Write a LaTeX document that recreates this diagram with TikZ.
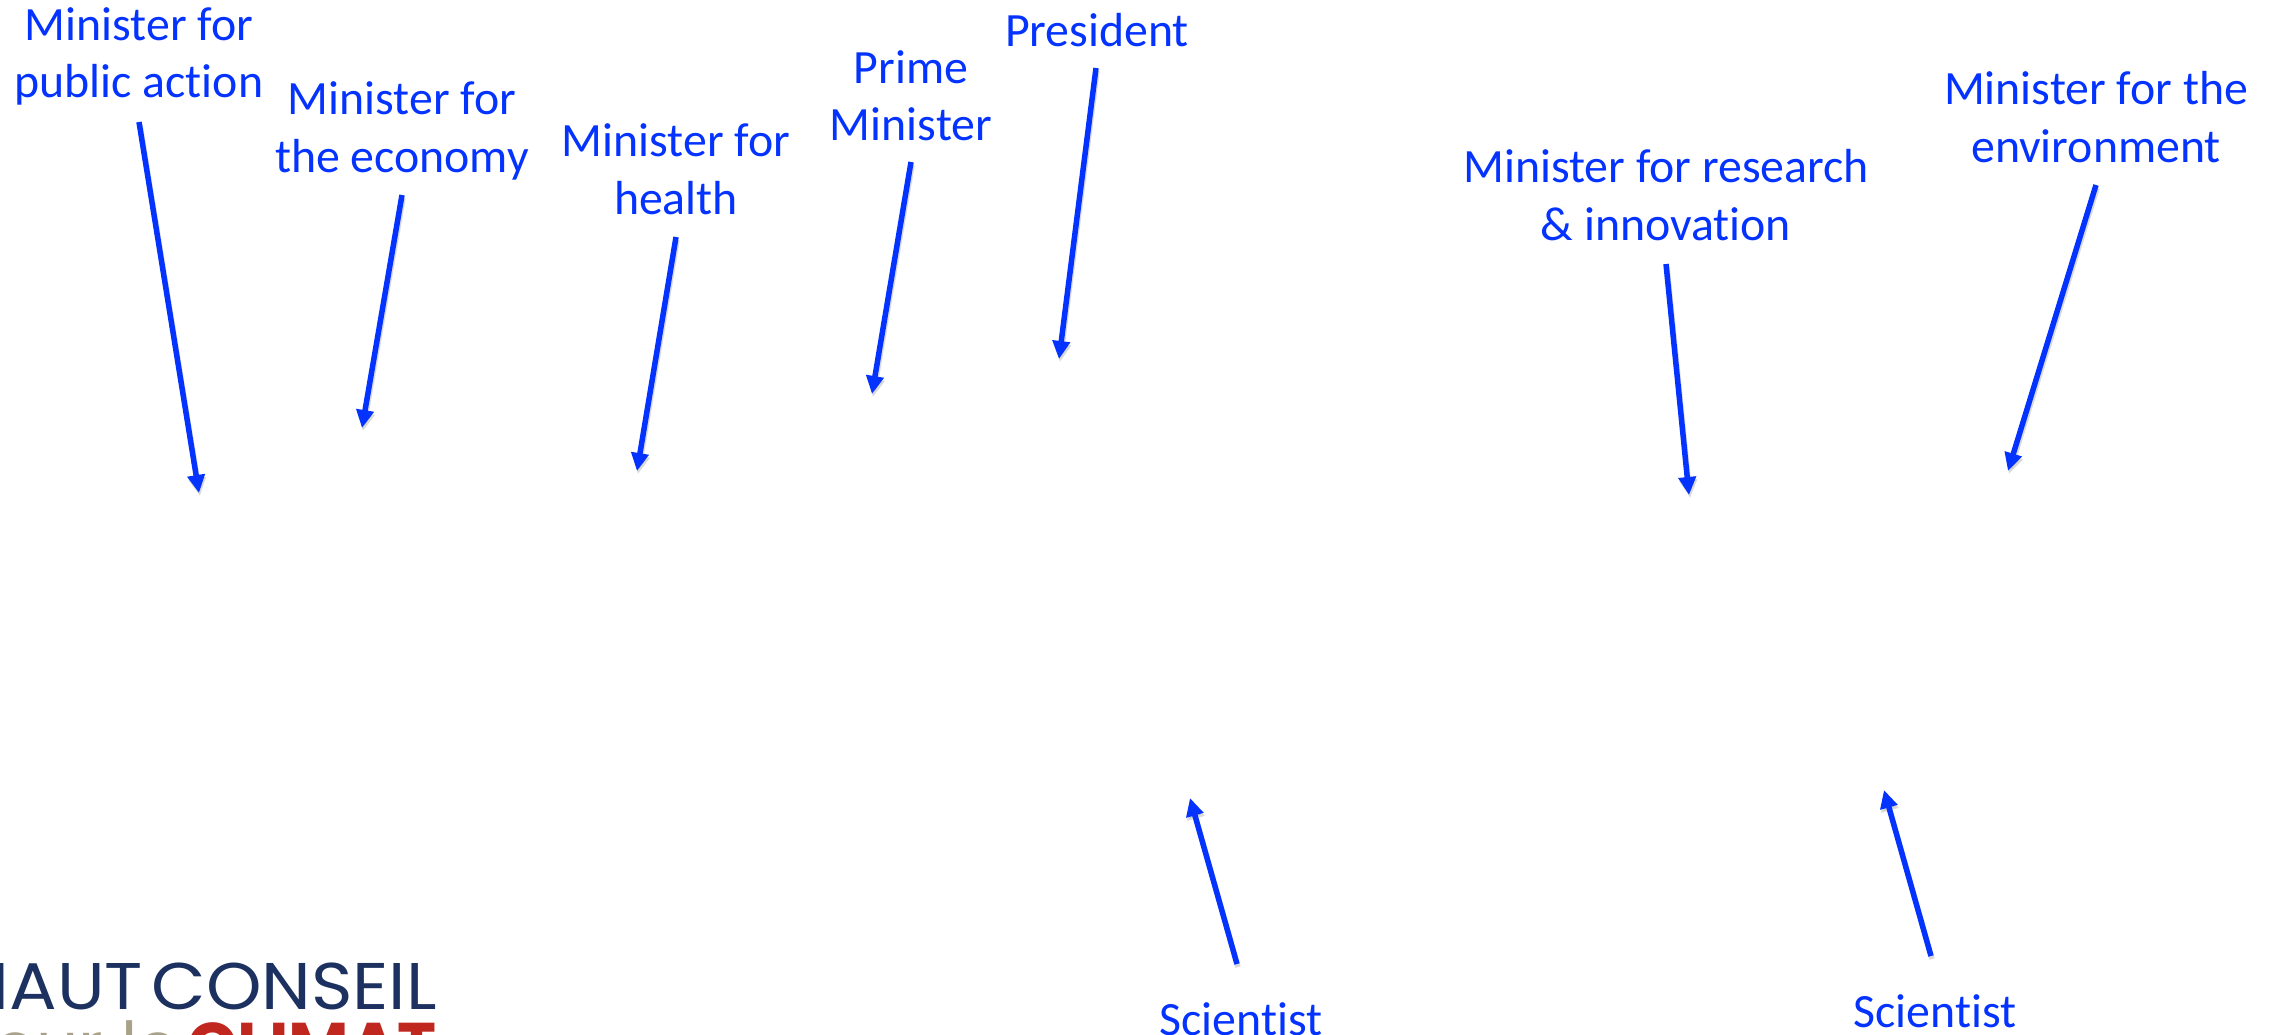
\documentclass[tikz,border=0pt]{standalone}
\usepackage{fontspec}
\usetikzlibrary{arrows.meta}
\setmainfont{Carlito}[Ligatures=NoCommon]
\newfontfamily\logofont{Poppins}
\definecolor{lblblue}{HTML}{0433FF}
\definecolor{logonavy}{HTML}{1C3160}
\definecolor{logored}{HTML}{C0271F}
\definecolor{logotan}{HTML}{A9A28A}
\tikzset{
  x=1pt,y=-1pt,
  lbl/.style={text=lblblue,font=\fontsize{47.8}{57}\selectfont,anchor=base,inner sep=0pt,align=center},
  arr/.style={draw=lblblue,line width=5.5pt,-{Triangle[length=18pt,width=17pt]}},
  arrshadow/.style={draw=black,opacity=0.15,line width=5.5pt,-{Triangle[length=18pt,width=17pt]}},
  logonode/.style={inner sep=0pt,anchor=base east}
}
\newcommand{\arrowline}[2]{%
  \draw[arrshadow,transform canvas={shift={(1pt,-3pt)}}] (#1) -- (#2);
  \draw[arr] (#1) -- (#2);}
\begin{document}
\begin{tikzpicture}
\useasboundingbox (0,0) rectangle (2271,1035);
\clip (0,0) rectangle (2271,1035);
\node[lbl] (pubA) at (139,41) {Minister for};
\node[lbl] (pubB) at (139,98) {public action};
\node[lbl] (ecoA) at (402,115) {Minister for};
\node[lbl] (ecoB) at (402,173) {the economy};
\node[lbl] (heaA) at (676,157) {Minister for};
\node[lbl] (heaB) at (676,215) {health};
\node[lbl] (priA) at (911,84) {Prime};
\node[lbl] (priB) at (911,141) {Minister};
\node[lbl] (pre) at (1097,47) {President};
\node[lbl] (resA) at (1666,183) {Minister for research};
\node[lbl] (resB) at (1666,241) {\&\ innovation};
\node[lbl] (envA) at (2096,105) {Minister for the};
\node[lbl] (envB) at (2096,163) {environment};
\node[lbl] (sciA) at (1241,1035) {Scientist};
\node[lbl] (sciB) at (1935,1027) {Scientist};
\coordinate (a1) at (139,122); \coordinate (b1) at (199,493);
\coordinate (a2) at (402,195); \coordinate (b2) at (362,428);
\coordinate (a3) at (676,237); \coordinate (b3) at (637,471);
\coordinate (a4) at (911,162); \coordinate (b4) at (872,394);
\coordinate (a5) at (1096,68); \coordinate (b5) at (1059,359);
\coordinate (a6) at (1666,264); \coordinate (b6) at (1689,495);
\coordinate (a7) at (2096,185); \coordinate (b7) at (2008,471);
\coordinate (a8) at (1237,964); \coordinate (b8) at (1190,798);
\coordinate (a9) at (1931,956); \coordinate (b9) at (1884,790);
\arrowline{a1}{b1}
\arrowline{a2}{b2}
\arrowline{a3}{b3}
\arrowline{a4}{b4}
\arrowline{a5}{b5}
\arrowline{a6}{b6}
\arrowline{a7}{b7}
\arrowline{a8}{b8}
\arrowline{a9}{b9}
\node[logonode,text=logonavy,font=\logofont\fontsize{66}{66}\selectfont] (logoA) at (437,1009) {\scalebox{1.07}[1]{HAUT\hspace{8pt}CONSEIL}};
\node[logonode,font=\logofont\fontsize{66}{66}\selectfont] (logoB) at (437,1069) {\textcolor{logotan}{pour le}\hspace{9pt}\textcolor{logored}{\bfseries CLIMAT}};
\end{tikzpicture}
\end{document}
